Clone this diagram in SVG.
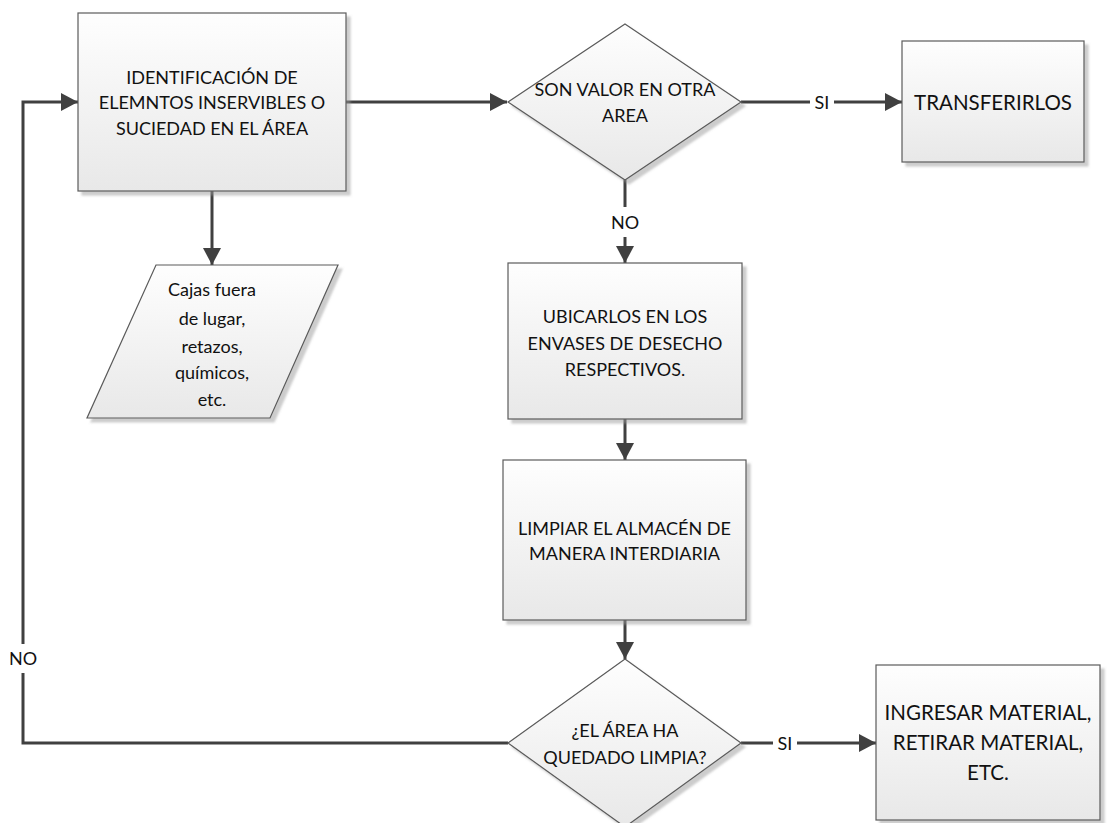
<svg xmlns="http://www.w3.org/2000/svg" width="1108" height="823" viewBox="0 0 1108 823">
<style>
.shape{fill:url(#g);stroke:#5a5a5a;stroke-width:1.2;filter:url(#sh)}
.t{font-family:Lato,"Liberation Sans",sans-serif;font-size:18px;fill:#111;text-anchor:middle}
.tb{font-family:Lato,"Liberation Sans",sans-serif;font-size:20.5px;fill:#111;text-anchor:middle}
.c{fill:none;stroke:#404040;stroke-width:3}
.lbl{fill:#fff}
</style>
<defs>
<linearGradient id="g" x1="0" y1="0" x2="0" y2="1">
<stop offset="0" stop-color="#fefefe"/>
<stop offset="1" stop-color="#e8e8e8"/>
</linearGradient>
<filter id="sh" x="-10%" y="-10%" width="125%" height="125%">
<feDropShadow dx="4" dy="4" stdDeviation="1" flood-color="#9a9a9a" flood-opacity="0.5"/>
</filter>
<marker id="ah" markerUnits="userSpaceOnUse" markerWidth="18" markerHeight="18" refX="17" refY="9" orient="auto">
<path d="M0,0 L17,9 L0,18 z" fill="#404040"/>
</marker>
</defs>
<rect width="1108" height="823" fill="#fff"/>

<g id="connectors">
<path class="c" d="M508,743 H23 V102 H78" marker-end="url(#ah)"/>
<path class="c" d="M346,102 H507" marker-end="url(#ah)"/>
<path class="c" d="M741,102 H902" marker-end="url(#ah)"/>
<path class="c" d="M625,180 V263" marker-end="url(#ah)"/>
<path class="c" d="M212,191 V265" marker-end="url(#ah)"/>
<path class="c" d="M625,419 V460" marker-end="url(#ah)"/>
<path class="c" d="M625,620 V659" marker-end="url(#ah)"/>
<path class="c" d="M741,743 H876" marker-end="url(#ah)"/>
<rect class="lbl" x="810" y="92" width="24" height="20"/>
<text class="t" x="822" y="108.5">SI</text>
<rect class="lbl" x="611" y="207" width="28" height="30"/>
<text class="t" x="625" y="228.5">NO</text>
<rect class="lbl" x="773" y="733" width="24" height="20"/>
<text class="t" x="785" y="749.5">SI</text>
<rect class="lbl" x="9" y="644" width="28" height="29"/>
<text class="t" x="23" y="664.5">NO</text>
</g>

<g id="n1">
<rect class="shape" x="78" y="13" width="268" height="178"/>
<text class="t" x="212" y="83.5">IDENTIFICACIÓN DE</text>
<text class="t" x="212" y="108.5">ELEMNTOS INSERVIBLES O</text>
<text class="t" x="212" y="134.5">SUCIEDAD EN EL ÁREA</text>
</g>

<g id="n2">
<polygon class="shape" points="625,24 741,102 625,180 508,102"/>
<text class="t" x="625" y="95.5">SON VALOR EN OTRA</text>
<text class="t" x="625" y="121.5">AREA</text>
</g>

<g id="n3">
<rect class="shape" x="902" y="41" width="182" height="121"/>
<text class="tb" x="993" y="109.5">TRANSFERIRLOS</text>
</g>

<g id="n4">
<polygon class="shape" points="156,265 338,265 270,418 87,418"/>
<text class="t" x="212" y="296">Cajas fuera</text>
<text class="t" x="212" y="325">de lugar,</text>
<text class="t" x="212" y="353">retazos,</text>
<text class="t" x="212" y="379">químicos,</text>
<text class="t" x="212" y="406">etc.</text>
</g>

<g id="n5">
<rect class="shape" x="508" y="263" width="234" height="156"/>
<text class="t" x="625" y="322.5">UBICARLOS EN LOS</text>
<text class="t" x="625" y="349.5">ENVASES DE DESECHO</text>
<text class="t" x="625" y="375.5">RESPECTIVOS.</text>
</g>

<g id="n6">
<rect class="shape" x="503" y="460" width="243" height="160"/>
<text class="t" x="624.5" y="534.5">LIMPIAR EL ALMACÉN DE</text>
<text class="t" x="624.5" y="559.5">MANERA INTERDIARIA</text>
</g>

<g id="n7">
<polygon class="shape" points="625,659 741,743 625,827 508,743"/>
<text class="t" x="625" y="736.5">¿EL ÁREA HA</text>
<text class="t" x="625" y="763.5">QUEDADO LIMPIA?</text>
</g>

<g id="n8">
<rect class="shape" x="876" y="665" width="224" height="155"/>
<text class="tb" x="988" y="719.5">INGRESAR MATERIAL,</text>
<text class="tb" x="988" y="749.5">RETIRAR MATERIAL,</text>
<text class="tb" x="988" y="779.5">ETC.</text>
</g>
</svg>
